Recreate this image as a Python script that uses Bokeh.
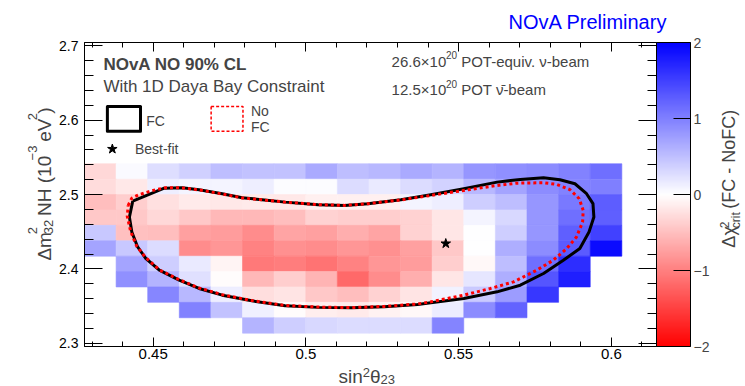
import math
from bokeh.plotting import figure
from bokeh.layouts import column, row
from bokeh.models import (Range1d, LinearAxis, FixedTicker, ColorBar,
                          LinearColorMapper, Label, ColumnDataSource)
from bokeh.embed import file_html
from bokeh.resources import INLINE

# ---------------- data ----------------
sin2_centers = [0.43267, 0.44302, 0.45337, 0.46372, 0.47407, 0.48442, 0.49477,
                0.50512, 0.51547, 0.52582, 0.53617, 0.54652, 0.55687, 0.56722,
                0.57757, 0.58792, 0.59827]
# rows from top to bottom
dm2_centers = [2.5311, 2.5104, 2.4897, 2.4690, 2.4483, 2.4276, 2.4069,
               2.3862, 2.3655, 2.3448, 2.3241]
N = None
dchi2_crit = [
    [-0.31, 0.04, 0.26, 0.37, 0.51, 0.47, 0.47, 0.67, 0.51, 0.55, 0.67, 0.59, 0.82, 0.86, 0.90, 0.98, 1.14],
    [-0.27, -0.18, 0.13, 0.08, 0.08, 0.13, 0.02, 0.02, 0.27, 0.16, 0.27, 0.35, 0.55, 0.71, 0.90, 0.98, 1.00],
    [-0.51, -0.39, -0.24, -0.17, -0.18, -0.16, -0.18, -0.12, -0.12, -0.12, 0.08, 0.13, 0.39, 0.51, 0.82, 1.06, 1.28],
    [-0.43, -0.43, -0.31, -0.43, -0.55, -0.55, -0.51, -0.35, -0.39, -0.39, -0.35, -0.20, 0.08, 0.31, 0.82, 1.14, 1.25],
    [0.43, -0.49, -0.51, -0.75, -0.78, -0.90, -0.71, -0.75, -0.63, -0.71, -0.35, -0.20, 0.00, 0.39, 0.82, 1.25, 1.49],
    [0.71, 0.43, 0.27, -0.90, -0.82, -0.98, -0.86, -0.90, -0.82, -0.86, -0.75, -0.43, 0.00, 0.63, 0.90, 1.29, 1.92],
    [N, 0.71, 0.39, 0.16, -0.08, -1.06, -1.02, -1.10, -0.98, -0.82, -0.78, -0.39, -0.05, 0.51, 1.14, 1.65, N],
    [N, 0.86, 0.59, 0.24, -0.02, -0.55, -0.39, -0.59, -1.18, -0.90, -0.63, -0.20, 0.20, 0.63, 1.33, 1.76, N],
    [N, N, 0.94, 0.55, 0.13, -0.26, -0.21, -0.43, -0.51, -0.35, -0.21, 0.10, 0.41, 0.78, 1.57, N, N],
    [N, N, N, 0.98, 0.47, 0.12, -0.02, -0.13, -0.16, -0.10, -0.05, 0.15, 0.90, 1.22, N, N, N],
    [N, N, N, N, N, 0.59, 0.39, 0.31, 0.27, 0.27, 0.27, 0.96, N, N, N, N, N],
]

fc_sin2 = [0.4433, 0.4536, 0.4595, 0.4650, 0.4726, 0.4791, 0.4856, 0.4932, 0.5040,
           0.5127, 0.5203, 0.5311, 0.5409, 0.5517, 0.5626, 0.5702, 0.5778, 0.5832,
           0.5881, 0.5919, 0.5940, 0.5943, 0.5927, 0.5897, 0.5843, 0.5778, 0.5702,
           0.5626, 0.5517, 0.5409, 0.5366, 0.5257, 0.5149, 0.5040, 0.4932, 0.4823,
           0.4726, 0.4650, 0.4585, 0.4520, 0.4476, 0.4449, 0.4430, 0.4422, 0.4433]
fc_dm2 = [2.4913, 2.5087, 2.5093, 2.5066, 2.5012, 2.4958, 2.4932, 2.4899, 2.4865,
          2.4855, 2.4878, 2.4932, 2.4999, 2.5079, 2.5168, 2.5204, 2.5227, 2.5200,
          2.5146, 2.5012, 2.4878, 2.4698, 2.4497, 2.4275, 2.4118, 2.3939, 2.3782,
          2.3693, 2.3604, 2.3545, 2.3524, 2.3492, 2.3478, 2.3484, 2.3505, 2.3572,
          2.3648, 2.3738, 2.3850, 2.3984, 2.4141, 2.4296, 2.4497, 2.4698, 2.4913]

nofc_sin2 = [0.4418, 0.4430, 0.4454, 0.4481, 0.4508, 0.4541, 0.4595, 0.4650, 0.4726,
             0.4791, 0.4856, 0.4932, 0.5040, 0.5127, 0.5203, 0.5311, 0.5409, 0.5517,
             0.5626, 0.5691, 0.5778, 0.5821, 0.5865, 0.5895, 0.5908, 0.5906, 0.5886,
             0.5854, 0.5810, 0.5756, 0.5680, 0.5604, 0.5517, 0.5409, 0.5366, 0.5257,
             0.5149, 0.5040, 0.4932, 0.4823, 0.4726, 0.4650, 0.4585, 0.4520, 0.4476,
             0.4446, 0.4426, 0.4415, 0.4418]
nofc_dm2 = [2.4855, 2.4953, 2.4999, 2.5034, 2.5066, 2.5093, 2.5090, 2.5063, 2.5009,
            2.4956, 2.4930, 2.4899, 2.4865, 2.4855, 2.4878, 2.4929, 2.4989, 2.5056,
            2.5123, 2.5154, 2.5160, 2.5137, 2.5066, 2.4945, 2.4788, 2.4631, 2.4430,
            2.4275, 2.4118, 2.3984, 2.3827, 2.3738, 2.3648, 2.3559, 2.3530, 2.3497,
            2.3481, 2.3488, 2.3510, 2.3575, 2.3655, 2.3745, 2.3856, 2.3988, 2.4151,
            2.4305, 2.4507, 2.4708, 2.4855]

bestfit_sin2 = [0.5458]
bestfit_dm2 = [2.4342]

x_ticks = [0.45, 0.5, 0.55, 0.6]
x_tick_labels = ["0.45", "0.5", "0.55", "0.6"]
y_ticks = [2.3, 2.4, 2.5, 2.6, 2.7]
z_ticks = [-2, -1, 0, 1, 2]
z_tick_labels = ["\u22122", "\u22121", "0", "1", "2"]

# ---------------- layout constants (page pixels) ----------------
X0, X1 = 0.4275, 0.6148
Y0, Y1 = 2.2958, 2.7045
FL, FR, FT, FB = 82, 657, 42, 346          # plot frame
TOP_H, BOT_Y = 36, 365                      # top strip height, bottom strip top
LEFT_W, RIGHT_X = 56, 712                   # left strip width, right strip left
CELL_W, CELL_H = 0.010349, 0.0207
FONT = "Liberation Sans"


def px2x(px):
    return X0 + (px - FL) * (X1 - X0) / (FR - FL)


def py2y(py):
    return Y0 + (FB - py) * (Y1 - Y0) / (FB - FT)


def col(v):
    t = max(-1.0, min(1.0, v / 2.0))
    if t >= 0:
        c = int(round(255 * (1 - t)))
        return "#%02x%02x%02x" % (c, c, 255)
    c = int(round(255 * (1 + t)))
    return "#%02x%02x%02x" % (255, c, c)


palette = [col(-2 + 4 * (i + 0.5) / 256) for i in range(256)]
mapper = LinearColorMapper(palette=palette, low=-2, high=2)

xs, ys, vs = [], [], []
for j, rw in enumerate(dchi2_crit):
    for i, v in enumerate(rw):
        if v is None:
            continue
        xs.append(sin2_centers[i])
        ys.append(dm2_centers[j])
        vs.append(v)
src = ColumnDataSource(dict(x=xs, y=ys, v=vs))

p = figure(width=RIGHT_X - LEFT_W, height=BOT_Y - TOP_H,
           x_range=Range1d(X0, X1), y_range=Range1d(Y0, Y1),
           output_backend="svg", toolbar_location=None,
           min_border_left=FL - LEFT_W, min_border_right=RIGHT_X - FR,
           min_border_top=FT - TOP_H, min_border_bottom=BOT_Y - FB,
           background_fill_color="white", border_fill_color="white",
           outline_line_color="black", outline_line_width=1)
p.grid.visible = False

p.rect("x", "y", width=CELL_W, height=CELL_H, source=src,
       fill_color={"field": "v", "transform": mapper},
       line_color={"field": "v", "transform": mapper}, line_width=0.6)

p.line(fc_sin2, fc_dm2, line_color="black", line_width=3, line_join="round")
p.line(nofc_sin2, nofc_dm2, line_color="#ff0000", line_width=3, line_dash="3 3")
p.scatter(bestfit_sin2, bestfit_dm2, marker="star", size=10, color="black")

# ---------------- axes ----------------
x_minor = [round(0.43 + 0.01 * k, 2) for k in range(19)]
y_minor = [round(2.30 + 0.02 * k, 2) for k in range(21)]


def style_axis(ax, ticks, minor, tin, tmin, show_labels, size, standoff):
    ax.ticker = FixedTicker(ticks=ticks, minor_ticks=minor)
    ax.major_tick_in = tin
    ax.major_tick_out = 0
    ax.minor_tick_in = tmin
    ax.minor_tick_out = 0
    ax.axis_line_color = "black"
    ax.major_tick_line_color = "black"
    ax.minor_tick_line_color = "black"
    ax.major_label_text_font = FONT
    ax.major_label_text_color = "black"
    if show_labels:
        ax.major_label_text_font_size = size
        ax.major_label_standoff = standoff
    else:
        ax.major_label_overrides = {t: "" for t in ticks}
        ax.major_label_text_font_size = "0px"
        ax.major_label_standoff = 0


style_axis(p.xaxis[0], x_ticks, x_minor, 9, 5, True, "15px", 2)
p.xaxis[0].major_label_overrides = dict(zip(x_ticks, x_tick_labels))
style_axis(p.yaxis[0], y_ticks, y_minor, 18, 9, True, "14px", 6)

top_ax = LinearAxis()
style_axis(top_ax, x_ticks, x_minor, 9, 5, False, None, 0)
p.add_layout(top_ax, "above")
right_ax = LinearAxis()
style_axis(right_ax, y_ticks, y_minor, 18, 9, False, None, 0)
p.add_layout(right_ax, "right")

cb = ColorBar(color_mapper=mapper, ticker=FixedTicker(ticks=z_ticks), width=34,
              padding=0, margin=0, label_standoff=3,
              major_label_text_font=FONT, major_label_text_font_size="14px",
              major_label_overrides=dict(zip(z_ticks, z_tick_labels)),
              major_tick_in=17, major_tick_out=0, major_tick_line_color="black",
              bar_line_color="black", border_line_color=None,
              background_fill_color=None)
p.add_layout(cb, "right")


# ---------------- text strips around the plot ----------------
def strip(w, h, x0, x1, y_top, y_bottom):
    f = figure(width=w, height=h, x_range=Range1d(x0, x1),
               y_range=Range1d(y_bottom, y_top), output_backend="svg",
               toolbar_location=None, min_border=0, x_axis_type=None,
               y_axis_type=None, outline_line_color=None,
               background_fill_color="white", border_fill_color="white")
    f.grid.visible = False
    return f


top_strip = strip(745, TOP_H, 0, 745, 0, TOP_H)
left_strip = strip(LEFT_W, BOT_Y - TOP_H, 0, LEFT_W, TOP_H, BOT_Y)
right_strip = strip(745 - RIGHT_X, BOT_Y - TOP_H, RIGHT_X, 745, TOP_H, BOT_Y)
bottom_strip = strip(745, 386 - BOT_Y, 0, 745, BOT_Y, 386)

EM = {' ': 0.278, '(': 0.333, ')': 0.333, '-': 0.333, '.': 0.278, '%': 0.889,
      '\u00d7': 0.584, '\u2212': 0.584, 'A': 0.667, 'B': 0.667, 'C': 0.722,
      'D': 0.722, 'F': 0.611, 'H': 0.722, 'L': 0.556, 'N': 0.722, 'O': 0.778,
      'P': 0.667, 'T': 0.611, 'V': 0.667, 'W': 0.944, 'a': 0.556, 'b': 0.556,
      'c': 0.5, 'e': 0.556, 'f': 0.278, 'i': 0.222, 'm': 0.833, 'n': 0.556,
      'o': 0.556, 'q': 0.556, 'r': 0.333, 's': 0.5, 't': 0.278, 'u': 0.556,
      'v': 0.5, 'y': 0.5, '\u0394': 0.668, '\u03c7': 0.5, '\u03b8': 0.556,
      '\u03bd': 0.5, '\u0304': 0.0}
for d in "0123456789":
    EM[d] = 0.556


def tw(s, size):
    return sum(EM.get(c, 0.556) for c in s) * size


def ident(px, py):
    return px, py


def main_xy(px, py):
    return px2x(px), py2y(py)


def put(fig, conv, px, py, text, size, **kw):
    x, y = conv(px, py)
    fig.add_layout(Label(x=x, y=y, text=text, text_font=FONT,
                         text_font_size=f"{size}px", text_baseline="middle", **kw))


def runs_h(fig, conv, px, py, parts):
    for part in parts:
        adv = 0
        for text, size, shift in part:
            lead = len(text) - len(text.lstrip(" "))
            put(fig, conv, px + tw(" " * lead, size), py + shift, text.lstrip(" "), size)
            adv = max(adv, tw(text, size))
        px += adv


def runs_v(fig, conv, px, py, parts):
    for part in parts:
        adv = 0
        for text, size, shift in part:
            lead = len(text) - len(text.lstrip(" "))
            put(fig, conv, px + shift, py - tw(" " * lead, size), text.lstrip(" "),
                size, angle=math.pi / 2)
            adv = max(adv, tw(text, size))
        py -= adv


# title
put(top_strip, ident, 667, 21, "NOvA Preliminary", 20, text_align="right",
    text_color="#0000ff")

# legend inside the frame
put(p, main_xy, 101, 64.2, "NOvA NO 90% CL", 17, text_font_style="bold")
put(p, main_xy, 101, 86.3, "With 1D Daya Bay Constraint", 17)
p.quad(left=[px2x(105)], right=[px2x(138.3)], top=[py2y(106)], bottom=[py2y(130.7)],
       fill_color=None, line_color="black", line_width=3, line_join="round")
put(p, main_xy, 144, 120, "FC", 14)
p.quad(left=[px2x(209.3)], right=[px2x(241.3)], top=[py2y(106)], bottom=[py2y(130.7)],
       fill_color=None, line_color="#ff0000", line_width=1.5, line_dash="3 2")
put(p, main_xy, 249.3, 110.5, "No", 14)
put(p, main_xy, 249.3, 126.7, "FC", 14)
p.scatter([px2x(110)], [py2y(148.5)], marker="star", size=10, color="black")
put(p, main_xy, 132.7, 148.3, "Best-fit", 14)

runs_h(p, main_xy, 390.7, 60.8, [[("26.6\u00d710", 15, 0)], [("20", 10, -6)],
                                 [(" POT-equiv. \u03bd-beam", 15, 0)]])
runs_h(p, main_xy, 390.7, 89.2, [[("12.5\u00d710", 15, 0)], [("20", 10, -6)],
                                 [(" POT \u03bd\u0304-beam", 15, 0)]])

# axis titles
runs_h(bottom_strip, ident, 338, 375.5,
       [[("sin", 19, 0)], [("2", 13, -4)], [("\u03b8", 19, 0)], [("23", 13, 3.5)]])
runs_v(left_strip, ident, 43.7, 272,
       [[("\u0394m", 19, 0)], [("2", 13, -12), ("32", 13, 4.5)],
        [(" NH (10", 19, 0)], [("\u22123", 13, -12)], [(" eV", 19, 0)],
        [("2", 13, -12)], [(")", 19, 0)]])
runs_v(right_strip, ident, 728.5, 258,
       [[("\u0394\u03c7", 18, 0)], [("2", 12, -5), ("crit", 12, 7)],
        [(" (FC - NoFC)", 18, 0)]])

layout = column(top_strip, row(left_strip, p, right_strip), bottom_strip)
open("out.html", "w").write(file_html(layout, INLINE))
